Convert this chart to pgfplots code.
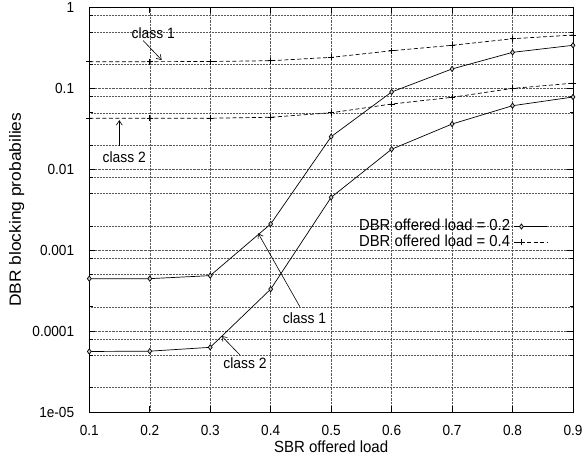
\documentclass[border=0pt]{standalone}
\usepackage{fontspec}
\setmainfont{Liberation Sans}[FakeStretch=0.93]
\newfontfamily\vfont{Liberation Sans}[FakeStretch=1.07]
\usepackage{pgfplots}
\pgfplotsset{compat=1.18}
\usetikzlibrary{arrows.meta}
\begin{document}
\begin{tikzpicture}[>={Straight Barb[length=4.5bp,width=6bp]}]
\begin{axis}[
  scale only axis, width=483.7bp, height=404.5bp,
  xmin=0.1, xmax=0.9, ymode=log, ymin=1e-5, ymax=1,
  clip=false,
  xtick={0.1,0.2,0.3,0.4,0.5,0.6,0.7,0.8,0.9},
  xticklabels={0.1,0.2,0.3,0.4,0.5,0.6,0.7,0.8,0.9},
  ytick={1e-5,1e-4,1e-3,1e-2,1e-1,1},
  yticklabels={1e-05,0.0001,0.001,0.01,0.1,1},
  minor ytick={2e-5,5e-5,8e-5,2e-4,5e-4,8e-4,2e-3,5e-3,8e-3,2e-2,5e-2,8e-2,2e-1,5e-1,8e-1},
  grid=both,
  grid style={densely dotted, black!65, line width=0.5pt},
  minor grid style={densely dotted, black!65, line width=0.5pt},
  tick align=inside,
  major tick length=6bp, minor tick length=3.5bp,
  tick style={black, line width=0.6pt},
  axis line style={line width=1pt},
  ticklabel style={font=\fontsize{14.7}{16}\selectfont},
  xticklabel style={anchor=base, yshift=-23.7bp},
  yticklabel style={anchor=east, inner sep=0pt, xshift=-15bp},
  xlabel={SBR offered load},
  ylabel={DBR blocking probabilies},
  xlabel style={font=\fontsize{16.2}{18}\selectfont, at={(axis description cs:0.5,-0.1006)}, anchor=base},
  ylabel style={font=\vfont\fontsize{16.3}{18}\selectfont, at={(axis description cs:-0.1412,0.5)}, anchor=base},
  legend plot pos=right,
  legend cell align=right,
  legend style={draw=none, fill=none, inner sep=0pt, at={(rel axis cs:0.9483,0.439)}, anchor=east,
    font=\fontsize{16}{18}\selectfont,
    nodes={inner sep=1bp, text height=10.8bp, text depth=3bp},
    column sep=3bp, row sep=0pt},
  legend image code/.code={\draw[mark repeat=2,mark phase=2,#1] plot coordinates {(0bp,0bp)(7bp,0bp)(33bp,0bp)};},
]
\addplot[black, line width=0.7pt, mark=diamond*, mark size=2.6bp, mark options={solid, fill=gray!40, line width=0.7pt}]
  coordinates {(0.1,4.45e-4)(0.2,4.45e-4)(0.3,4.85e-4)(0.4,2.11e-3)(0.5,0.0253)(0.6,0.0903)(0.7,0.174)(0.8,0.279)(0.9,0.341)};
\addlegendentry{DBR offered load = 0.2}
\addplot[black, line width=0.7pt, dash pattern=on 4bp off 2.5bp, mark=+, mark size=3bp, mark options={solid, line width=0.7pt}]
  coordinates {(0.1,0.214)(0.2,0.214)(0.3,0.215)(0.4,0.220)(0.5,0.242)(0.6,0.292)(0.7,0.341)(0.8,0.411)(0.9,0.457)};
\addlegendentry{DBR offered load = 0.4}
\addplot[forget plot, black, line width=0.7pt, mark=diamond*, mark size=2.6bp, mark options={solid, fill=gray!40, line width=0.7pt}]
  coordinates {(0.1,5.6e-5)(0.2,5.65e-5)(0.3,6.3e-5)(0.4,3.3e-4)(0.5,4.5e-3)(0.6,0.0177)(0.7,0.0363)(0.8,0.0611)(0.9,0.0783)};
\addplot[forget plot, black, line width=0.7pt, dash pattern=on 4bp off 2.5bp, mark=+, mark size=3bp, mark options={solid, line width=0.7pt}]
  coordinates {(0.1,0.0427)(0.2,0.0427)(0.3,0.0428)(0.4,0.044)(0.5,0.050)(0.6,0.0641)(0.7,0.0776)(0.8,0.100)(0.9,0.116)};
% annotations
\node[anchor=base, font=\fontsize{15}{17}\selectfont] at (axis cs:0.2057,0.416) {class 1};
\draw[->, line width=0.6pt] (axis cs:0.1893,0.3888) -- (axis cs:0.2197,0.2244);
\node[anchor=base, font=\fontsize{15}{17}\selectfont] at (axis cs:0.1577,0.01213) {class 2};
\draw[->, line width=0.6pt] (axis cs:0.1496,0.0194) -- (axis cs:0.1496,0.0405);
\node[anchor=base, font=\fontsize{15}{17}\selectfont] at (axis cs:0.456,1.248e-4) {class 1};
\draw[->, line width=0.6pt] (axis cs:0.4483,2.0e-4) -- (axis cs:0.3793,1.618e-3);
\node[anchor=base, font=\fontsize{15}{17}\selectfont] at (axis cs:0.3574,3.47e-5) {class 2};
\draw[->, line width=0.6pt] (axis cs:0.3491,5.07e-5) -- (axis cs:0.3188,8.7e-5);
\coordinate (bl) at (rel axis cs:0,0);
\coordinate (tr) at (rel axis cs:1,1);
\end{axis}
\pgfresetboundingbox
\path[use as bounding box] ([xshift=-89.3bp,yshift=-47bp]bl) rectangle ([xshift=10bp,yshift=7.5bp]tr);
\end{tikzpicture}
\end{document}
